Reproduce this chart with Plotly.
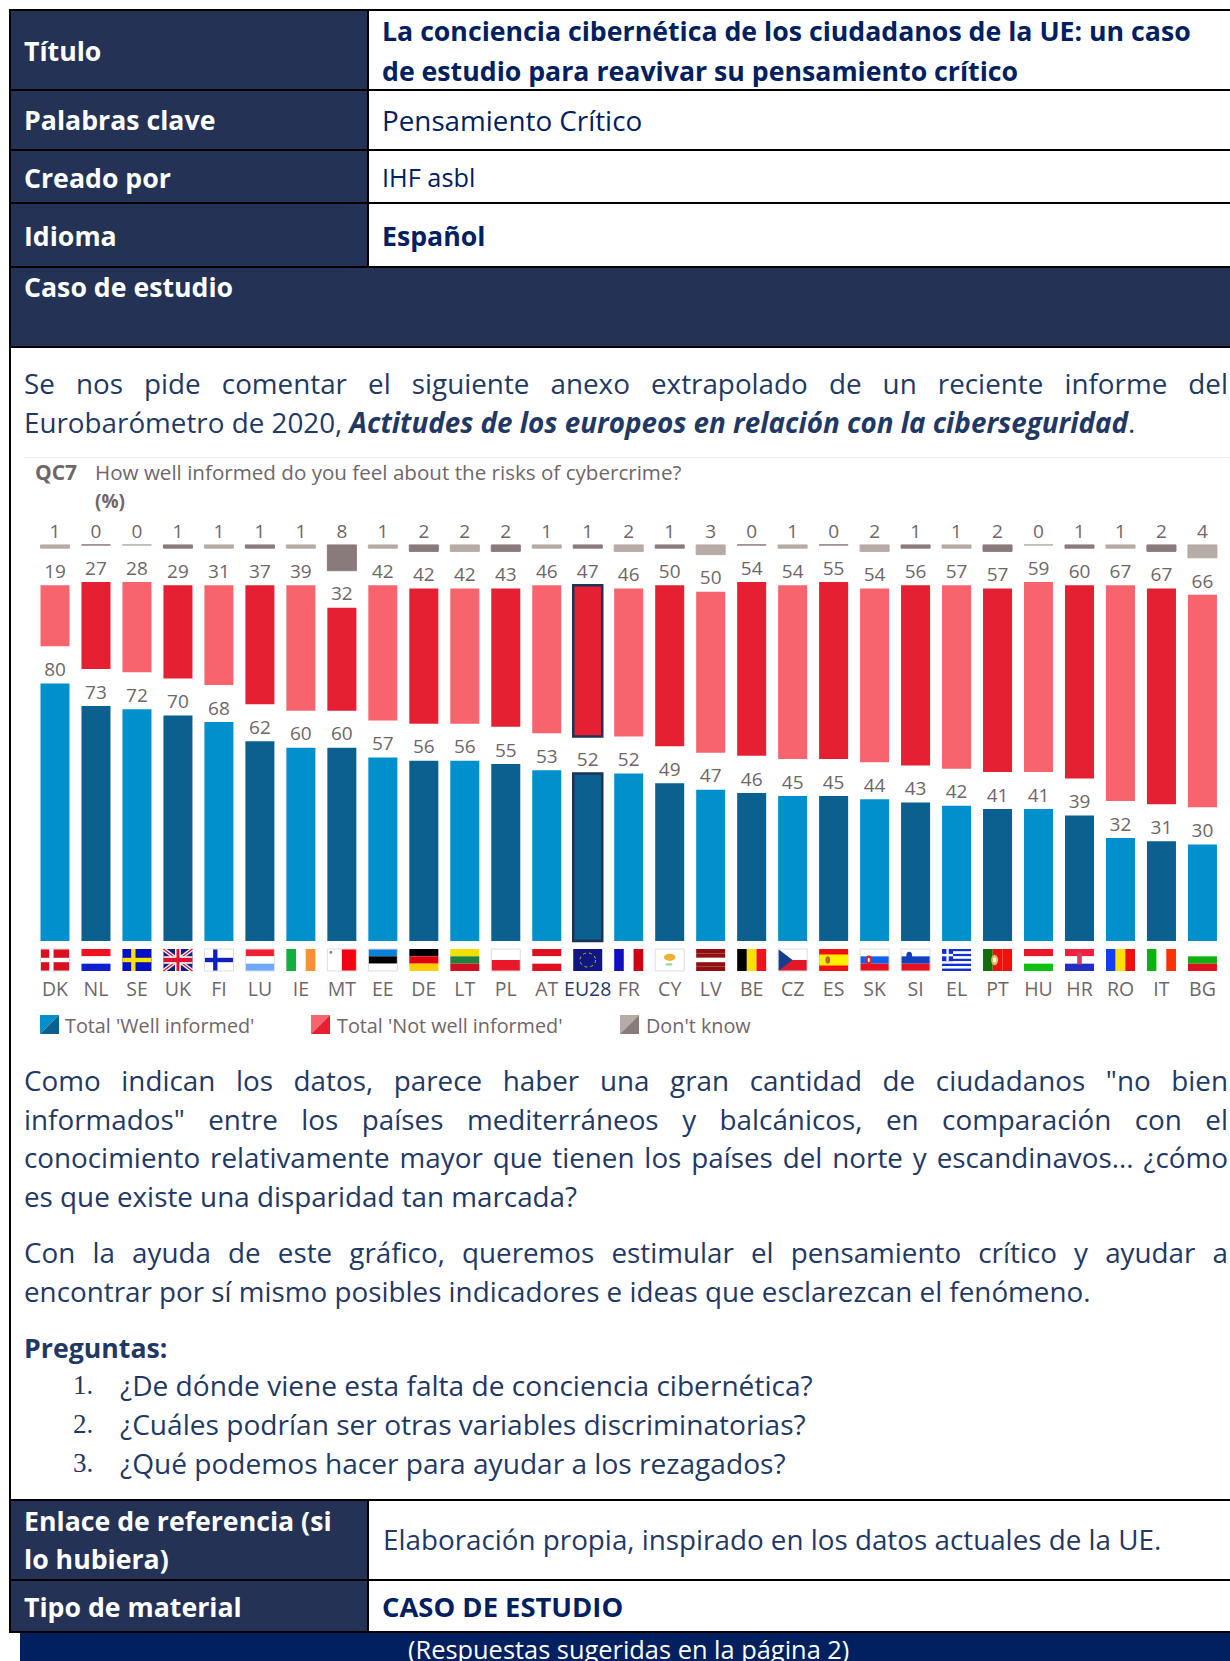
import json
import plotly.graph_objects as go

W, H = 1230, 1661
codes = ["DK","NL","SE","UK","FI","LU","IE","MT","EE","DE","LT","PL","AT","EU28","FR","CY","LV","BE","CZ","ES","SK","SI","EL","PT","HU","HR","RO","IT","BG"]
well_informed = [80,73,72,70,68,62,60,60,57,56,56,55,53,52,52,49,47,46,45,45,44,43,42,41,41,39,32,31,30]
not_informed = [19,27,28,29,31,37,39,32,42,42,42,43,46,47,46,50,50,54,54,55,54,56,57,57,59,60,67,67,66]
dont_know = [1,0,0,1,1,1,1,8,1,2,2,2,1,1,2,1,3,0,1,0,2,1,1,2,0,1,1,2,4]

NAVY = "#243255"
INK = "#002060"
BODY = "#1F3864"
GREY = "#6F6668"
FONT = "Open Sans"
BLUE = ("#0090CC", "#0B6090")
RED = ("#F8646E", "#E42032")
DKC = ("#B7ABA5", "#897A7C")
EU_EDGE = "#1B3358"

# chart geometry (pixels)
PPU = 3.22
BASE_PX, TOP_PX, BOT_PX = 941, 530, 975
X0_PX, DX_PX = 55, 40.98
LEFT_PX, RIGHT_PX = 30, 1228
GAP = 11.5
LIFT = 0.8
BAR_W = 0.708
n = len(codes)
rng = lambda a: [a[i % 2] for i in range(n)]

red_base = [w + GAP for w in well_informed]
dk_base = [r + v + GAP for r, v in zip(red_base, not_informed)]
eu_line = [2.5 if c == "EU28" else 0 for c in codes]
xs = list(range(n))

fig = go.Figure()
fig.add_bar(x=xs, y=well_informed, width=BAR_W, marker=dict(color=rng(BLUE), line=dict(color=EU_EDGE, width=eu_line)))
fig.add_bar(x=xs, y=not_informed, base=red_base, width=BAR_W, marker=dict(color=rng(RED), line=dict(color=EU_EDGE, width=eu_line)))
fig.add_bar(x=xs, y=dont_know, base=dk_base, width=BAR_W, marker=dict(color=rng(DKC), line=dict(color=rng(DKC), width=1)))
for base, vals in (([0] * n, well_informed), (red_base, not_informed), (dk_base, dont_know)):
    fig.add_scatter(x=xs, y=[b + v + LIFT for b, v in zip(base, vals)], mode="text", text=[str(v) for v in vals],
                    textposition="top center", textfont=dict(family=FONT, size=19, color=GREY), cliponaxis=False, hoverinfo="skip")

def px(x): return x / W
def py(y): return 1 - y / H

shapes, annos = [], []
def box(x0, y0, x1, y1, fill, layer="below"):
    shapes.append(dict(type="rect", xref="paper", yref="paper", x0=px(x0), x1=px(x1), y0=py(y0), y1=py(y1),
                       fillcolor=fill, line_width=0, layer=layer))
def txt(x, y, s, size, color, bold=False, family=FONT, xanchor="left"):
    annos.append(dict(xref="paper", yref="paper", x=px(x), y=py(y), text=f"<b>{s}</b>" if bold else s, showarrow=False,
                      xanchor=xanchor, yanchor="middle", align="left", borderpad=0,
                      font=dict(family=family, size=size, color=color)))

# ---- table
DIV = 368
box(0, 0, W, H, "#FFFFFF")
for y0, y1 in [(10, 90), (90, 150), (150, 203), (203, 267), (1500, 1580), (1580, 1632)]:
    box(10, y0, DIV, y1, NAVY)
box(10, 267, W, 347, NAVY)
box(20, 1633, W, H, "#002060")
for y in (10, 90, 150, 203, 267, 347, 1500, 1580, 1632):
    box(9, y - 1, W, y + 1, "#000000")
box(9, 9, 11, 1633, "#000000")
for y0, y1 in [(10, 267), (1500, 1632)]:
    box(DIV - 1, y0, DIV + 1, y1, "#000000")

SB = 26.7   # bold size
SR = 27.8   # regular size
for y, s in [(50, "Título"), (120, "Palabras clave"), (177, "Creado por"), (235, "Idioma"), (287, "Caso de estudio"),
             (1520, "Enlace de referencia (si"), (1558, "lo hubiera)"), (1606, "Tipo de material")]:
    txt(23, y, s, SB, "#FFFFFF", True)
txt(381, 31, "La conciencia cibernética de los ciudadanos de la UE: un caso", SB, INK, True)
txt(381, 70, "de estudio para reavivar su pensamiento crítico", SB, INK, True)
txt(381, 120, "Pensamiento Crítico", SR, INK)
txt(381, 177, "IHF asbl", 25.3, INK)
txt(381, 235, "Español", SB, INK, True)
txt(382, 1539, "Elaboración propia, inspirado en los datos actuales de la UE.", SR, BODY)
txt(381, 1606, "CASO DE ESTUDIO", 27.4, INK, True)
txt(628, 1649, "(Respuestas sugeridas en la página 2)", 25.4, "#FFFFFF", xanchor="center")

# ---- body text
justified = [
    "Se nos pide comentar el siguiente anexo extrapolado de un reciente informe del",
    "Como indican los datos, parece haber una gran cantidad de ciudadanos \"no bien",
    "informados\" entre los países mediterráneos y balcánicos, en comparación con el",
    "conocimiento relativamente mayor que tienen los países del norte y escandinavos... ¿cómo",
    "Con la ayuda de este gráfico, queremos estimular el pensamiento crítico y ayudar a",
]
txt(23, 383, justified[0], SR, BODY)
txt(23, 422, "Eurobarómetro de 2020, <b><i>Actitudes de los europeos en relación con la ciberseguridad</i></b>.", SR, BODY)
txt(23, 1080, justified[1], SR, BODY)
txt(23, 1119, justified[2], SR, BODY)
txt(23, 1157, justified[3], SR, BODY)
txt(23, 1196, "es que existe una disparidad tan marcada?", SR, BODY)
txt(23, 1252, justified[4], SR, BODY)
txt(23, 1291, "encontrar por sí mismo posibles indicadores e ideas que esclarezcan el fenómeno.", SR, BODY)
txt(23, 1347, "Preguntas:", SB, BODY, True)
for i, (y, s) in enumerate([(1385, "¿De dónde viene esta falta de conciencia cibernética?"),
                            (1424, "¿Cuáles podrían ser otras variables discriminatorias?"),
                            (1463, "¿Qué podemos hacer para ayudar a los rezagados?")]):
    txt(72, y, f"{i + 1}.", 27, BODY, family="Liberation Serif")
    txt(119, y, s, 28.1, BODY)

# ---- chart header
box(24, 457, W, 458, "#F1F1F1")
txt(34, 472, "QC7", 21, GREY, True)
txt(94, 472, "How well informed do you feel about the risks of cybercrime?", 20.6, GREY)
txt(94, 501, "(%)", 19, GREY, True)

# ---- legend
def swatch(x0, c0, c1):
    y0, y1 = 1015, 1034
    x1 = x0 + 19
    for path, c in (((x0, y1, x0, y0, x1, y0), c0), ((x0, y1, x1, y1, x1, y0), c1)):
        d = "M{} {} L{} {} L{} {} Z".format(px(path[0]), py(path[1]), px(path[2]), py(path[3]), px(path[4]), py(path[5]))
        shapes.append(dict(type="path", xref="paper", yref="paper", path=d, fillcolor=c, line_width=0))
swatch(40, *BLUE); txt(64, 1025, "Total 'Well informed'", 19.8, GREY)
swatch(311, *RED); txt(336, 1025, "Total 'Not well informed'", 19.8, GREY)
swatch(620, *DKC); txt(645, 1025, "Don't know", 19.8, GREY)

# ---- flags
F_TOP, F_BOT = -8 / PPU, -30 / PPU
def frect(i, u0, v0, u1, v1, c):
    shapes.append(dict(type="rect", xref="x", yref="y", x0=i - BAR_W / 2 + u0 * BAR_W, x1=i - BAR_W / 2 + u1 * BAR_W,
                       y0=F_TOP + v0 * (F_BOT - F_TOP), y1=F_TOP + v1 * (F_BOT - F_TOP), fillcolor=c, line_width=0))
def fline(i, u0, v0, u1, v1, c, w):
    shapes.append(dict(type="line", xref="x", yref="y", x0=i - BAR_W / 2 + u0 * BAR_W, x1=i - BAR_W / 2 + u1 * BAR_W,
                       y0=F_TOP + v0 * (F_BOT - F_TOP), y1=F_TOP + v1 * (F_BOT - F_TOP), line=dict(color=c, width=w)))
def fdot(i, u, v, ru, rv, c, w=0, dash="solid"):
    shapes.append(dict(type="circle", xref="x", yref="y", x0=i - BAR_W / 2 + (u - ru) * BAR_W, x1=i - BAR_W / 2 + (u + ru) * BAR_W,
                       y0=F_TOP + (v - rv) * (F_BOT - F_TOP), y1=F_TOP + (v + rv) * (F_BOT - F_TOP),
                       fillcolor=c if not w else "rgba(0,0,0,0)", line=dict(color=c, width=w, dash=dash)))
horizontal = {"NL": ["#F01020", "#FFFFFF", "#1020D0"], "LU": ["#F02030", "#FFFFFF", "#70A8FF"], "EE": ["#0A80D8", "#000000", "#FFFFFF"],
              "DE": ["#000000", "#E00010", "#FFCC00"], "LT": ["#F0E000", "#208040", "#D01020"], "PL": ["#FFFFFF", "#E81828"],
              "AT": ["#E01020", "#FFFFFF", "#E01020"], "LV": ["#901010", "#901010", "#FFFFFF", "#901010", "#901010"],
              "HU": ["#E81828", "#FFFFFF", "#10C010"], "SK": ["#FFFFFF", "#1060F0", "#E81020"], "SI": ["#FFFFFF", "#1040C0", "#E81020"],
              "HR": ["#F02040", "#FFFFFF", "#2030C0"], "BG": ["#FFFFFF", "#10B010", "#E01020"]}
vertical = {"IE": ["#10B040", "#FFFFFF", "#FF9030"], "MT": ["#FFFFFF", "#F80010"], "FR": ["#1010C0", "#FFFFFF", "#D00010"],
            "BE": ["#000000", "#FFE000", "#F01020"], "RO": ["#1040F0", "#FFE000", "#E81010"], "IT": ["#10B010", "#FFFFFF", "#FF3000"],
            "PT": ["#107010", "#F01010", "#F01010"]}
for i, c in enumerate(codes):
    if c in horizontal:
        s = horizontal[c]
        for k, col in enumerate(s):
            frect(i, 0, k / len(s), 1, (k + 1) / len(s), col)
    elif c in vertical:
        s = vertical[c]
        for k, col in enumerate(s):
            frect(i, k / len(s), 0, (k + 1) / len(s), 1, col)
    elif c in ("DK", "SE", "FI"):
        bg, cr = {"DK": ("#D81020", "#FFFFFF"), "SE": ("#0010C0", "#FFE000"), "FI": ("#FFFFFF", "#1020C0")}[c]
        frect(i, 0, 0, 1, 1, bg)
        frect(i, .3, 0, .45, 1, cr)
        frect(i, 0, .4, 1, .6, cr)
    elif c == "UK":
        frect(i, 0, 0, 1, 1, "#102080")
        fline(i, 0, 0, 1, 1, "#FFFFFF", 4); fline(i, 0, 1, 1, 0, "#FFFFFF", 4)
        fline(i, 0, 0, 1, 1, "#E01030", 1.5); fline(i, 0, 1, 1, 0, "#E01030", 1.5)
        frect(i, .4, 0, .6, 1, "#FFFFFF"); frect(i, 0, .33, 1, .67, "#FFFFFF")
        frect(i, .45, 0, .55, 1, "#E01030"); frect(i, 0, .4, 1, .6, "#E01030")
    elif c == "EU28":
        frect(i, 0, 0, 1, 1, "#101880")
        fdot(i, .5, .5, .27, .32, "#C8B020", 1, "dot")
    elif c == "CY":
        frect(i, 0, 0, 1, 1, "#FFFFFF")
        fdot(i, .5, .38, .2, .16, "#F0B030")
        fdot(i, .47, .7, .12, .06, "#A8DCA0")
    elif c == "CZ":
        frect(i, 0, 0, 1, .5, "#FFFFFF"); frect(i, 0, .5, 1, 1, "#E01828")
        x = lambda u: i - BAR_W / 2 + u * BAR_W
        shapes.append(dict(type="path", xref="x", yref="y", fillcolor="#183C90", line_width=0,
                           path=f"M{x(0)} {F_TOP} L{x(.5)} {(F_TOP + F_BOT) / 2} L{x(0)} {F_BOT} Z"))
    elif c == "ES":
        frect(i, 0, 0, 1, 1, "#F01010"); frect(i, 0, .25, 1, .75, "#FFF000")
        fdot(i, .3, .5, .08, .17, "#C06020")
    elif c == "EL":
        for k in range(9):
            frect(i, 0, k / 9, 1, (k + 1) / 9, "#1030D0" if k % 2 == 0 else "#FFFFFF")
        frect(i, 0, 0, .38, 5 / 9, "#1030D0")
        frect(i, .15, 0, .23, 5 / 9, "#FFFFFF"); frect(i, 0, 2 / 9, .38, 3 / 9, "#FFFFFF")
    if c == "MT":
        fdot(i, .12, .15, .05, .07, "#808080")
    if c == "SK":
        fdot(i, .3, .5, .11, .2, "#E02030"); fdot(i, .3, .5, .035, .1, "#FFFFFF")
    if c == "SI":
        fdot(i, .28, .3, .1, .17, "#1040C0")
    if c == "PT":
        fdot(i, .4, .5, .12, .24, "#D0C060"); fdot(i, .4, .5, .06, .13, "#F8F8F8")
    if c == "HR":
        frect(i, .42, .15, .58, .7, "#D04060")
    if c in ("DK", "FI", "LU", "MT", "EE", "PL", "CY", "CZ", "SK", "SI"):
        shapes.append(dict(type="rect", xref="x", yref="y", x0=i - BAR_W / 2, x1=i + BAR_W / 2, y0=F_BOT, y1=F_TOP,
                           line=dict(color="#DDDDDD", width=1)))

tick_text = [f'<span style="color:{BODY}">{c}</span>' if c == "EU28" else c for c in codes]
script = """
document.body.style.margin='0';document.documentElement.style.overflow='hidden';
var J=%s,R=%d;
document.querySelectorAll('.annotation-text').forEach(function(t){
  if(J.indexOf(t.textContent)<0)return;
  var n=t.textContent.split(' ').length-1,b=t.getBoundingClientRect();
  t.style.wordSpacing=((R-b.left-t.getComputedTextLength())/n)+'px';
});
""" % (json.dumps(justified), 1228)

fig.update_layout(
    width=W, height=H, autosize=False, margin=dict(l=0, r=0, t=0, b=0, pad=0), showlegend=False, barmode="overlay",
    paper_bgcolor="#FFFFFF", plot_bgcolor="rgba(0,0,0,0)", shapes=shapes, annotations=annos,
    xaxis=dict(domain=[px(LEFT_PX), px(RIGHT_PX)], range=[(LEFT_PX - X0_PX) / DX_PX, (RIGHT_PX - X0_PX) / DX_PX],
               tickmode="array", tickvals=xs, ticktext=tick_text, ticks="", showgrid=False, zeroline=False, showline=False,
               tickfont=dict(family=FONT, size=19.5, color=GREY), tickangle=0, anchor="y"),
    yaxis=dict(domain=[py(BOT_PX), py(TOP_PX)], range=[(BASE_PX - BOT_PX) / PPU, (BASE_PX - TOP_PX) / PPU],
               showticklabels=False, ticks="", showgrid=False, zeroline=False, showline=False),
)
fig.write_html("out.html", post_script=script, config=dict(displayModeBar=False))
